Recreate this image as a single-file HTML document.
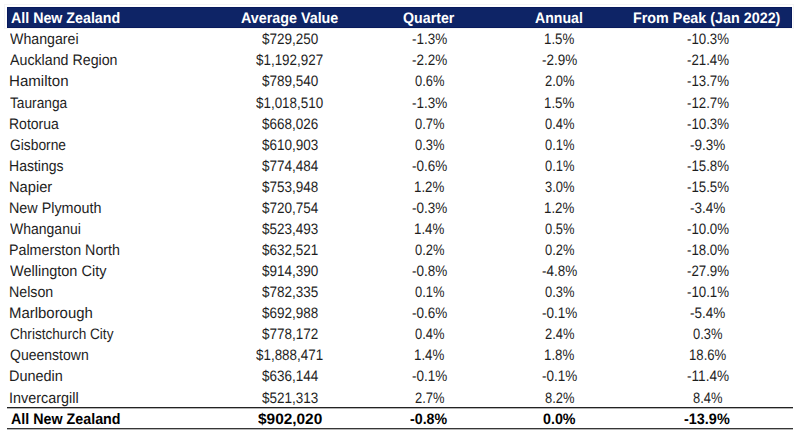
<!DOCTYPE html>
<html><head><meta charset="utf-8"><style>
html,body{margin:0;padding:0;background:#fff;width:800px;height:437px;overflow:hidden;position:relative}
span{position:absolute;white-space:nowrap;font-family:"Liberation Sans",Arial,sans-serif;font-size:15.2px;line-height:15.2px;color:#1e1e1e;transform-origin:0 0;text-rendering:geometricPrecision}
.b{font-weight:bold;color:#000}
.navy{position:absolute;left:7px;top:7px;width:785px;height:21px;background:#0e2466;box-shadow:inset 0 0 0 1px #081a5c}
.ln{position:absolute;left:7px;width:786px;height:1px;background:#222}
.faint{position:absolute;box-sizing:border-box;border:1px solid #f5f5f5}
</style></head><body>
<div class="faint" style="left:4px;top:4px;width:790px;height:25px"></div>
<div class="navy"></div>
<div class="ln" style="top:407px;background:#222"></div>
<div class="ln" style="top:408px;background:#b4b4b4"></div>
<div class="ln" style="top:428px;background:#363636"></div>
<div class="ln" style="top:429px;background:#b8b8b8"></div>
<span class="b" style="left:10.60px;top:11.13px;transform:scaleX(0.9373);color:#fff;">All New Zealand</span>
<span class="b" style="left:241.00px;top:11.13px;transform:scaleX(0.9423);color:#fff;">Average Value</span>
<span class="b" style="left:403.40px;top:11.13px;transform:scaleX(0.9354);color:#fff;">Quarter</span>
<span class="b" style="left:535.40px;top:11.13px;transform:scaleX(0.9289);color:#fff;">Annual</span>
<span class="b" style="left:632.56px;top:11.13px;transform:scaleX(0.9438);color:#fff;">From Peak (Jan 2022)</span>
<span class="" style="left:9.60px;top:32.13px;transform:scaleX(0.9333);">Whangarei</span>
<span class="" style="left:261.55px;top:32.13px;transform:scaleX(0.8887);">$729,250</span>
<span class="" style="left:411.70px;top:32.13px;transform:scaleX(0.8884);">-1.3%</span>
<span class="" style="left:544.02px;top:32.13px;transform:scaleX(0.8758);">1.5%</span>
<span class="" style="left:686.60px;top:32.13px;transform:scaleX(0.8736);">-10.3%</span>
<span class="" style="left:9.60px;top:53.13px;transform:scaleX(0.9364);">Auckland Region</span>
<span class="" style="left:256.15px;top:53.13px;transform:scaleX(0.8827);">$1,192,927</span>
<span class="" style="left:411.70px;top:53.13px;transform:scaleX(0.8884);">-2.2%</span>
<span class="" style="left:542.00px;top:53.13px;transform:scaleX(0.8884);">-2.9%</span>
<span class="" style="left:686.60px;top:53.13px;transform:scaleX(0.8736);">-21.4%</span>
<span class="" style="left:9.31px;top:74.13px;transform:scaleX(0.9935);">Hamilton</span>
<span class="" style="left:261.55px;top:74.13px;transform:scaleX(0.8887);">$789,540</span>
<span class="" style="left:414.60px;top:74.13px;transform:scaleX(0.8501);">0.6%</span>
<span class="" style="left:544.90px;top:74.13px;transform:scaleX(0.8501);">2.0%</span>
<span class="" style="left:686.60px;top:74.13px;transform:scaleX(0.8736);">-13.7%</span>
<span class="" style="left:10.30px;top:96.13px;transform:scaleX(0.9032);">Tauranga</span>
<span class="" style="left:256.15px;top:96.13px;transform:scaleX(0.8827);">$1,018,510</span>
<span class="" style="left:411.70px;top:96.13px;transform:scaleX(0.8884);">-1.3%</span>
<span class="" style="left:544.02px;top:96.13px;transform:scaleX(0.8758);">1.5%</span>
<span class="" style="left:686.60px;top:96.13px;transform:scaleX(0.8736);">-12.7%</span>
<span class="" style="left:9.38px;top:117.13px;transform:scaleX(0.9219);">Rotorua</span>
<span class="" style="left:261.55px;top:117.13px;transform:scaleX(0.8887);">$668,026</span>
<span class="" style="left:414.60px;top:117.13px;transform:scaleX(0.8501);">0.7%</span>
<span class="" style="left:544.90px;top:117.13px;transform:scaleX(0.8501);">0.4%</span>
<span class="" style="left:686.60px;top:117.13px;transform:scaleX(0.8736);">-10.3%</span>
<span class="" style="left:10.30px;top:138.13px;transform:scaleX(0.9088);">Gisborne</span>
<span class="" style="left:261.55px;top:138.13px;transform:scaleX(0.8887);">$610,903</span>
<span class="" style="left:414.60px;top:138.13px;transform:scaleX(0.8501);">0.3%</span>
<span class="" style="left:544.90px;top:138.13px;transform:scaleX(0.8501);">0.1%</span>
<span class="" style="left:690.00px;top:138.13px;transform:scaleX(0.8884);">-9.3%</span>
<span class="" style="left:9.38px;top:159.13px;transform:scaleX(0.9232);">Hastings</span>
<span class="" style="left:261.55px;top:159.13px;transform:scaleX(0.8887);">$774,484</span>
<span class="" style="left:411.70px;top:159.13px;transform:scaleX(0.8884);">-0.6%</span>
<span class="" style="left:544.90px;top:159.13px;transform:scaleX(0.8501);">0.1%</span>
<span class="" style="left:686.60px;top:159.13px;transform:scaleX(0.8736);">-15.8%</span>
<span class="" style="left:9.33px;top:180.13px;transform:scaleX(0.9661);">Napier</span>
<span class="" style="left:261.55px;top:180.13px;transform:scaleX(0.8887);">$753,948</span>
<span class="" style="left:413.72px;top:180.13px;transform:scaleX(0.8758);">1.2%</span>
<span class="" style="left:544.90px;top:180.13px;transform:scaleX(0.8501);">3.0%</span>
<span class="" style="left:686.60px;top:180.13px;transform:scaleX(0.8736);">-15.5%</span>
<span class="" style="left:9.36px;top:201.13px;transform:scaleX(0.9444);">New Plymouth</span>
<span class="" style="left:261.55px;top:201.13px;transform:scaleX(0.8887);">$720,754</span>
<span class="" style="left:411.70px;top:201.13px;transform:scaleX(0.8884);">-0.3%</span>
<span class="" style="left:544.02px;top:201.13px;transform:scaleX(0.8758);">1.2%</span>
<span class="" style="left:690.00px;top:201.13px;transform:scaleX(0.8884);">-3.4%</span>
<span class="" style="left:10.30px;top:222.13px;transform:scaleX(0.9220);">Whanganui</span>
<span class="" style="left:261.55px;top:222.13px;transform:scaleX(0.8887);">$523,493</span>
<span class="" style="left:413.72px;top:222.13px;transform:scaleX(0.8758);">1.4%</span>
<span class="" style="left:544.90px;top:222.13px;transform:scaleX(0.8501);">0.5%</span>
<span class="" style="left:686.60px;top:222.13px;transform:scaleX(0.8736);">-10.0%</span>
<span class="" style="left:9.36px;top:243.13px;transform:scaleX(0.9390);">Palmerston North</span>
<span class="" style="left:261.55px;top:243.13px;transform:scaleX(0.8887);">$632,521</span>
<span class="" style="left:414.60px;top:243.13px;transform:scaleX(0.8501);">0.2%</span>
<span class="" style="left:544.90px;top:243.13px;transform:scaleX(0.8501);">0.2%</span>
<span class="" style="left:686.60px;top:243.13px;transform:scaleX(0.8736);">-18.0%</span>
<span class="" style="left:10.30px;top:264.13px;transform:scaleX(0.9545);">Wellington City</span>
<span class="" style="left:261.55px;top:264.13px;transform:scaleX(0.8887);">$914,390</span>
<span class="" style="left:411.70px;top:264.13px;transform:scaleX(0.8884);">-0.8%</span>
<span class="" style="left:542.00px;top:264.13px;transform:scaleX(0.8884);">-4.8%</span>
<span class="" style="left:686.60px;top:264.13px;transform:scaleX(0.8736);">-27.9%</span>
<span class="" style="left:9.36px;top:285.13px;transform:scaleX(0.9361);">Nelson</span>
<span class="" style="left:261.55px;top:285.13px;transform:scaleX(0.8887);">$782,335</span>
<span class="" style="left:414.60px;top:285.13px;transform:scaleX(0.8501);">0.1%</span>
<span class="" style="left:544.90px;top:285.13px;transform:scaleX(0.8501);">0.3%</span>
<span class="" style="left:686.60px;top:285.13px;transform:scaleX(0.8736);">-10.1%</span>
<span class="" style="left:9.32px;top:306.13px;transform:scaleX(0.9831);">Marlborough</span>
<span class="" style="left:261.55px;top:306.13px;transform:scaleX(0.8887);">$692,988</span>
<span class="" style="left:411.70px;top:306.13px;transform:scaleX(0.8884);">-0.6%</span>
<span class="" style="left:542.00px;top:306.13px;transform:scaleX(0.8884);">-0.1%</span>
<span class="" style="left:690.00px;top:306.13px;transform:scaleX(0.8884);">-5.4%</span>
<span class="" style="left:9.90px;top:327.13px;transform:scaleX(0.8946);">Christchurch City</span>
<span class="" style="left:261.55px;top:327.13px;transform:scaleX(0.8887);">$778,172</span>
<span class="" style="left:414.60px;top:327.13px;transform:scaleX(0.8501);">0.4%</span>
<span class="" style="left:544.90px;top:327.13px;transform:scaleX(0.8501);">2.4%</span>
<span class="" style="left:692.90px;top:327.13px;transform:scaleX(0.8501);">0.3%</span>
<span class="" style="left:9.90px;top:348.13px;transform:scaleX(0.9231);">Queenstown</span>
<span class="" style="left:256.15px;top:348.13px;transform:scaleX(0.8827);">$1,888,471</span>
<span class="" style="left:413.72px;top:348.13px;transform:scaleX(0.8758);">1.4%</span>
<span class="" style="left:544.02px;top:348.13px;transform:scaleX(0.8758);">1.8%</span>
<span class="" style="left:688.53px;top:348.13px;transform:scaleX(0.8662);">18.6%</span>
<span class="" style="left:9.35px;top:369.13px;transform:scaleX(0.9523);">Dunedin</span>
<span class="" style="left:261.55px;top:369.13px;transform:scaleX(0.8887);">$636,144</span>
<span class="" style="left:411.70px;top:369.13px;transform:scaleX(0.8884);">-0.1%</span>
<span class="" style="left:542.00px;top:369.13px;transform:scaleX(0.8884);">-0.1%</span>
<span class="" style="left:686.60px;top:369.13px;transform:scaleX(0.8948);">-11.4%</span>
<span class="" style="left:9.35px;top:391.13px;transform:scaleX(0.9493);">Invercargill</span>
<span class="" style="left:261.55px;top:391.13px;transform:scaleX(0.8887);">$521,313</span>
<span class="" style="left:414.60px;top:391.13px;transform:scaleX(0.8501);">2.7%</span>
<span class="" style="left:544.90px;top:391.13px;transform:scaleX(0.8501);">8.2%</span>
<span class="" style="left:692.90px;top:391.13px;transform:scaleX(0.8501);">8.4%</span>
<span class="b" style="left:10.60px;top:412.13px;transform:scaleX(0.9407);">All New Zealand</span>
<span class="b" style="left:257.90px;top:412.13px;transform:scaleX(1.0143);">$902,020</span>
<span class="b" style="left:410.00px;top:412.13px;transform:scaleX(0.9360);">-0.8%</span>
<span class="b" style="left:542.60px;top:412.13px;transform:scaleX(0.9398);">0.0%</span>
<span class="b" style="left:684.20px;top:412.13px;transform:scaleX(0.9503);">-13.9%</span>
</body></html>
